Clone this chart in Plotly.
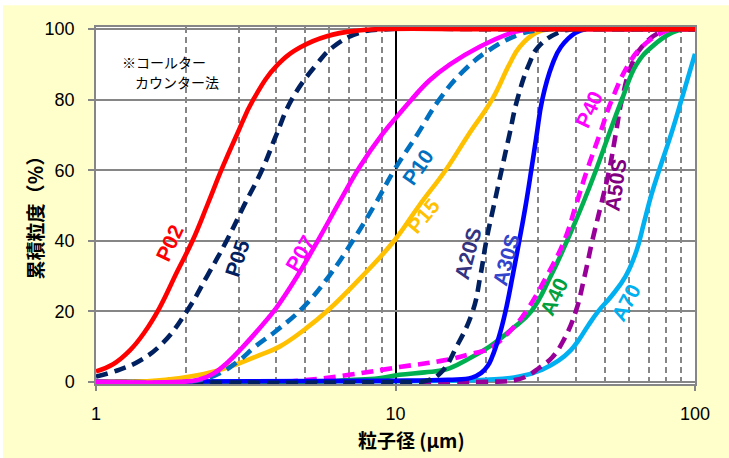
import plotly.graph_objects as go

# Cumulative particle size distributions (Coulter counter), particle size in µm vs cumulative %
p02_d = [1, 1.14, 1.3, 1.45, 1.63, 1.86, 2.1, 2.35, 2.62, 2.95, 3.35, 4.05, 4.85, 5.9, 7.5, 9.0, 20, 100]
p02_v = [3, 5, 9, 14, 21, 31, 40, 50, 60, 70, 80, 90, 95, 98, 99.6, 100, 100, 100]

p05_d = [1, 1.2, 1.4, 1.67, 2.01, 2.35, 2.73, 3.12, 3.58, 4.0, 4.5, 5.45, 6.2, 7.6, 9.5, 20, 100]
p05_v = [1.5, 3.5, 6, 11, 20, 30, 40, 50, 60, 70, 80, 90, 95, 99, 100, 100, 100]

p07_d = [1, 1.9, 2.2, 2.45, 2.75, 3.1, 3.5, 4.0, 4.7, 5.5, 6.5, 7.6, 9.0, 10.3, 11.3, 13, 15.2, 19.1, 24.5, 28, 50, 100]
p07_v = [0, 0, 0.6, 2.2, 5.5, 10, 15, 21, 30, 40, 51, 61, 70, 76, 80, 85.5, 90, 95, 99, 100, 100, 100]

p10_d = [1, 2.0, 2.3, 2.6, 3.0, 3.4, 4.0, 4.9, 6.0, 7.2, 8.5, 9.9, 11.8, 14.0, 16.8, 20.5, 25.9, 30, 35, 100]
p10_v = [0, 0, 0.8, 2.5, 6, 10, 14.5, 21, 30, 40, 50, 60, 70, 80, 88, 94, 98.5, 99.7, 100, 100]

p15_d = [1, 1.48, 1.75, 2.06, 2.5, 2.95, 3.5, 4.1, 5.0, 5.9, 7.75, 9.9, 12, 14.7, 17.5, 21, 24, 26, 29.5, 33, 50, 100]
p15_v = [0, 0.2, 0.7, 1.5, 3, 5, 7.5, 10, 15, 20, 30, 40, 50, 60, 70, 80, 90, 95, 99, 100, 100, 100]

a20s_d = [1, 10, 12.9, 14.3, 16, 18.1, 19.2, 20.1, 21.3, 22.6, 24, 25.5, 27.9, 30, 35, 40, 60, 100]
a20s_v = [0, 0, 0.5, 3, 10, 20, 30, 40, 50, 60, 70, 80, 90, 95, 99, 100, 100, 100]

a30s_d = [1, 8.8, 15, 18, 19.3, 20.3, 21, 22.2, 23.3, 24.6, 25.9, 27.2, 28.4, 29.6, 30.9, 33.4, 35.7, 40, 43, 60, 100]
a30s_v = [0, 0.3, 0.6, 1.2, 2.5, 4.5, 7, 13, 20, 30, 40, 50, 60, 70, 80, 90, 95, 99, 100, 100, 100]

p40_d = [1, 4, 5, 7, 10.3, 14.7, 18, 20.6, 24.5, 27.3, 32, 36.6, 40, 43.6, 48, 52.8, 60, 66.5, 77.8, 85, 100]
p40_v = [0, 0, 0.5, 2, 4.2, 6.2, 8, 9.5, 15, 20, 30, 40, 50, 60, 70, 80, 90, 95, 99, 100, 100]

a40_d = [1, 5, 7, 8.8, 10.3, 12.5, 14.7, 17.5, 20.6, 24.5, 28.4, 33, 37.4, 42, 46.7, 51.5, 57, 63.8, 71.8, 83.8, 92, 100]
a40_v = [0, 0, 0.5, 1, 2, 2.7, 3.5, 6.5, 10, 15, 20, 30, 40, 50, 60, 70, 80, 90, 95, 99, 100, 100]

a50s_d = [1, 20, 25, 27.3, 30.2, 33.4, 36.5, 40, 42.8, 45.4, 48.5, 51.7, 54.3, 57, 61.5, 66.5, 75.9, 85, 100]
a50s_v = [0, 0, 0.5, 1.5, 4, 7, 12, 20, 30, 40, 50, 60, 70, 80, 90, 95, 99, 100, 100]

a70_d = [1, 10, 20, 25.9, 30.9, 35, 38.5, 41, 44, 47.5, 52.8, 58.7, 63.7, 67.5, 71.5, 75.9, 83.8, 90.5, 100]
a70_v = [0, 0.2, 0.6, 1.5, 3.5, 6, 9, 12, 16, 20, 24.5, 30, 37, 45, 53, 60, 71, 80.5, 93]

series_names = ["P02", "P05", "P07", "P10", "P15", "A20S", "A30S", "P40", "A40", "A50S", "A70"]

x_tick_vals = [1, 10, 100]
x_tick_text = ["1", "10", "100"]
x_minor_vals = [2, 3, 4, 5, 6, 7, 8, 9, 20, 30, 40, 50, 60, 70, 80, 90]
y_tick_vals = [0, 20, 40, 60, 80, 100]

x_title = "粒子径 (μm)"
y_title = "累積粒度（％）"
note_line1 = "※コールター"
note_line2 = "カウンター法"
top_title = "（粒度分布）"

# name: (x data, y data, line colour, dashed, label colour, label log-x, label y, label angle)
curves = {
    "P02": (p02_d, p02_v, "#FF0000", False, "#FF0000", 0.247, 39.4, -65),
    "P05": (p05_d, p05_v, "#002060", True, "#002060", 0.47, 35.1, -72),
    "P07": (p07_d, p07_v, "#FF00FF", False, "#FF00FF", 0.68, 36.5, -60),
    "P10": (p10_d, p10_v, "#0070C0", True, "#0070C0", 1.073, 60.9, -55),
    "P15": (p15_d, p15_v, "#FFC000", False, "#FFC000", 1.093, 47.3, -50),
    "A20S": (a20s_d, a20s_v, "#002060", True, "#333380", 1.24, 36.5, -75),
    "A30S": (a30s_d, a30s_v, "#0000FF", False, "#3344CC", 1.37, 34.6, -75),
    "P40": (p40_d, p40_v, "#FF00FF", True, "#FF00FF", 1.647, 77.1, -65),
    "A40": (a40_d, a40_v, "#00B050", False, "#00A040", 1.53, 24.1, -65),
    "A50S": (a50s_d, a50s_v, "#990099", True, "#800080", 1.733, 55.8, -82),
    "A70": (a70_d, a70_v, "#00B0F0", False, "#00B0F0", 1.77, 22.4, -62),
}

fig = go.Figure()

draw_order = ["A70", "A50S", "A40", "P40", "A30S", "A20S", "P15", "P10", "P07", "P05", "P02"]
for name in draw_order:
    xd, yd, color, dashed, _, _, _, _ = curves[name]
    fig.add_trace(go.Scatter(
        x=xd, y=yd, mode="lines", name=name,
        line=dict(color=color, width=4.6, shape="spline", smoothing=1.25,
                  dash="12px,7px" if dashed else "solid"),
        showlegend=False, hoverinfo="skip",
    ))

for name in series_names:
    _, _, _, _, lcolor, lx, ly, ang = curves[name]
    fig.add_annotation(
        x=lx, y=ly, xref="x", yref="y", text=f"<b>{name}</b>", showarrow=False,
        textangle=ang, font=dict(family="Liberation Sans, Arial", size=21, color=lcolor),
    )

tick_font = dict(family="Liberation Sans, Arial", size=18, color="#000000")
grid_gray = "#868686"

fig.update_xaxes(
    type="log", range=[0, 2],
    tickvals=x_tick_vals, ticktext=x_tick_text, tickfont=tick_font,
    ticks="outside", ticklen=5, tickcolor=grid_gray, tickwidth=1.5,
    ticklabelstandoff=8,
    showgrid=True, gridcolor="#000000", gridwidth=1.5,
    minor=dict(tickvals=x_minor_vals, showgrid=True, gridcolor=grid_gray,
               griddash="6px,4px", gridwidth=1.5, ticks=""),
    showline=True, linecolor=grid_gray, linewidth=1.5, mirror=True,
    zeroline=False,
)
fig.update_yaxes(
    range=[-0.6, 100.6],
    tickvals=y_tick_vals, tickfont=tick_font,
    ticks="outside", ticklen=6, tickcolor=grid_gray, tickwidth=1.5,
    ticklabelstandoff=10,
    showgrid=True, gridcolor=grid_gray, gridwidth=1.5,
    showline=True, linecolor=grid_gray, linewidth=1.5, mirror=True,
    zeroline=False,
)

# axis titles and note
fig.add_annotation(x=0.526, y=-0.155, xref="paper", yref="paper", text=f"<b>{x_title}</b>",
                   showarrow=False, xanchor="center", yanchor="middle",
                   font=dict(family="Noto Sans CJK JP", size=19, color="#000000"))
fig.add_annotation(x=-0.102, y=0.48, xref="paper", yref="paper", text=f"<b>{y_title}</b>",
                   showarrow=False, textangle=-90, xanchor="center", yanchor="middle",
                   font=dict(family="Noto Sans CJK JP", size=19, color="#000000"))
fig.add_annotation(x=0.04, y=0.903, xref="paper", yref="paper", text=note_line1,
                   showarrow=False, xanchor="left", yanchor="middle",
                   font=dict(family="Noto Sans CJK JP", size=14, color="#000000"))
fig.add_annotation(x=0.062, y=0.846, xref="paper", yref="paper", text=note_line2,
                   showarrow=False, xanchor="left", yanchor="middle",
                   font=dict(family="Noto Sans CJK JP", size=14, color="#000000"))
fig.add_annotation(x=-0.025, y=1.095, xref="paper", yref="paper", text=top_title,
                   showarrow=False, xanchor="center", yanchor="bottom",
                   font=dict(family="Noto Sans CJK JP", size=21, color="#222222"))

# white strip along top and left edges of the page
fig.add_shape(type="rect", xref="paper", yref="paper", x0=-0.2, x1=1.1, y0=1.061, y1=1.2,
              fillcolor="#FFFFFF", line=dict(width=0), layer="below")
fig.add_shape(type="rect", xref="paper", yref="paper", x0=-0.2, x1=-0.1553, y0=-0.3, y1=1.2,
              fillcolor="#FFFFFF", line=dict(width=0), layer="below")

fig.update_layout(
    width=729, height=458,
    margin=dict(l=96, r=34, t=27, b=74),
    paper_bgcolor="#FFFFCC", plot_bgcolor="#FFFFFF",
)

fig.write_html("out.html")
